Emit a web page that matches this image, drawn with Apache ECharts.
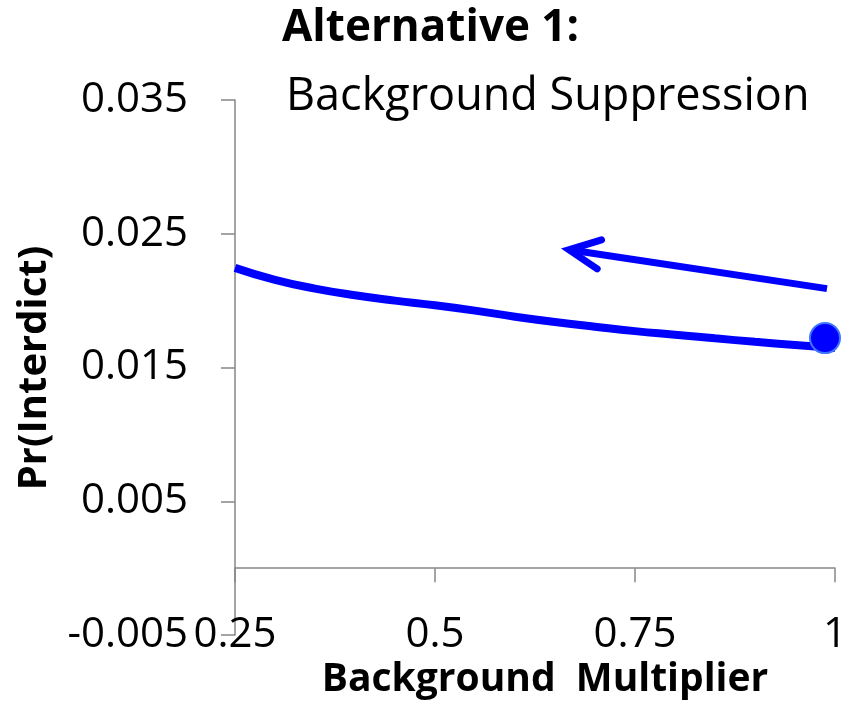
<!DOCTYPE html>
<html>
<head>
<meta charset="utf-8">
<script src="https://cdn.jsdelivr.net/npm/echarts@6/dist/echarts.min.js"></script>
<style>
html,body{margin:0;padding:0;background:#fff;overflow:hidden;}
#chart{width:848px;height:706px;}
</style>
</head>
<body>
<div id="chart"></div>
<script>
// ---- data ----
const xValues = [0.25, 0.30, 0.35, 0.40, 0.45, 0.50, 0.55, 0.60, 0.65, 0.70, 0.75, 0.80, 0.85, 0.90, 0.95, 1.00];
const prInterdict = [0.02245, 0.02155, 0.02090, 0.02040, 0.02000, 0.01965, 0.01925, 0.01880, 0.01840, 0.01805, 0.01772, 0.01745, 0.01718, 0.01692, 0.01668, 0.01645];
const currentPoint = [0.9875, 0.0172];
const arrowTail = [0.99, 0.0209];
const arrowTip = [0.6675, 0.0238];
const yTicks = [-0.005, 0.005, 0.015, 0.025, 0.035];
const yTickLabels = ['-0.005', '0.005', '0.015', '0.025', '0.035'];
const xTicks = [0.25, 0.5, 0.75, 1];
const xTickLabels = ['0.25', '0.5', '0.75', '1'];
const titleLine1 = 'Alternative 1:';
const titleLine2 = 'Background Suppression';
const yName = 'Pr(Interdict)';
const xName = 'Background  Multiplier';

const FONT = 'Open Sans';
const AXIS_GRAY = '#868686';
const BLUE = '#0000FF';

const chart = echarts.init(document.getElementById('chart'), null, {renderer: 'canvas'});

const curveData = xValues.map((x, i) => [x, prInterdict[i]]);
const xFmt = v => { const i = xTicks.findIndex(t => Math.abs(t - v) < 1e-9); return i >= 0 ? xTickLabels[i] : ''; };
const yFmt = v => { const i = yTicks.findIndex(t => Math.abs(t - v) < 1e-9); return i >= 0 ? yTickLabels[i] : ''; };

const option = {
  backgroundColor: '#ffffff',
  animation: false,
  grid: {left: 235, right: 13, top: 100, bottom: 71, containLabel: false, outerBoundsMode: 'none'},
  xAxis: [
    {
      // axis line crossing at y = 0, with ticks
      type: 'value', position: 'bottom',
      min: 0.25, max: 1, interval: 0.25,
      axisLine: {show: true, onZero: true, lineStyle: {color: AXIS_GRAY, width: 1.5}},
      axisTick: {show: true, length: 14, inside: false, customValues: xTicks, lineStyle: {color: AXIS_GRAY, width: 1.5}},
      axisLabel: {show: false},
      splitLine: {show: false}
    },
    {
      // labels at the low end of the plot
      type: 'value', position: 'bottom',
      min: 0.25, max: 1, interval: 0.25,
      axisLine: {show: false, onZero: false},
      axisTick: {show: false},
      axisLabel: {
        show: true, customValues: xTicks, margin: 0, verticalAlign: 'middle',
        fontFamily: FONT, fontSize: 42, color: '#000', formatter: xFmt
      },
      splitLine: {show: false}
    }
  ],
  yAxis: {
    type: 'value',
    min: -0.005, max: 0.035,
    axisLine: {show: true, lineStyle: {color: AXIS_GRAY, width: 1.5}},
    axisTick: {show: true, length: 14, inside: false, customValues: yTicks, lineStyle: {color: AXIS_GRAY, width: 1.5}},
    axisLabel: {
      show: true, customValues: yTicks, margin: 47,
      fontFamily: FONT, fontSize: 42, color: '#000', formatter: yFmt
    },
    splitLine: {show: false}
  },
  graphic: [
    {type: 'text', x: 282, y: 28, style: {text: titleLine1, font: 'bold 44px "Open Sans"', fill: '#000', verticalAlign: 'middle'}},
    {type: 'text', x: 286, y: 97, style: {text: titleLine2, font: '45px "Open Sans"', fill: '#000', verticalAlign: 'middle'}},
    {type: 'text', x: 35, y: 368, rotation: Math.PI / 2, style: {text: yName, font: 'bold 40px "Open Sans"', fill: '#000', align: 'center', verticalAlign: 'middle'}},
    {type: 'text', x: 545, y: 680, style: {text: xName, font: 'bold 39px "Open Sans"', fill: '#000', align: 'center', verticalAlign: 'middle'}}
  ],
  series: [
    {
      type: 'line', xAxisIndex: 0, data: curveData, smooth: true, showSymbol: false,
      lineStyle: {color: BLUE, width: 8}, z: 2
    },
    {
      type: 'scatter', xAxisIndex: 0, data: [currentPoint], symbol: 'circle', symbolSize: 30,
      itemStyle: {color: BLUE, opacity: 1, borderColor: '#3f74ff', borderWidth: 2}, z: 4
    },
    {
      type: 'custom', xAxisIndex: 0, z: 3,
      data: [[arrowTail[0], arrowTail[1], arrowTip[0], arrowTip[1]]],
      renderItem: function (params, api) {
        const p0 = api.coord([api.value(0), api.value(1)]);
        const p1 = api.coord([api.value(2), api.value(3)]);
        const ang = Math.atan2(p0[1] - p1[1], p0[0] - p1[0]);
        const L = 34, a = 25.5 * Math.PI / 180;
        const w1 = [p1[0] + L * Math.cos(ang - a), p1[1] + L * Math.sin(ang - a)];
        const w2 = [p1[0] + L * Math.cos(ang + a), p1[1] + L * Math.sin(ang + a)];
        return {
          type: 'group',
          children: [
            {type: 'polyline', shape: {points: [p0, p1]}, style: {stroke: BLUE, lineWidth: 7, fill: null, lineCap: 'butt'}},
            {type: 'polyline', shape: {points: [w1, p1, w2]}, style: {stroke: BLUE, lineWidth: 7, fill: null, lineCap: 'round', lineJoin: 'miter'}}
          ]
        };
      }
    }
  ]
};
chart.setOption(option);
</script>
</body>
</html>
